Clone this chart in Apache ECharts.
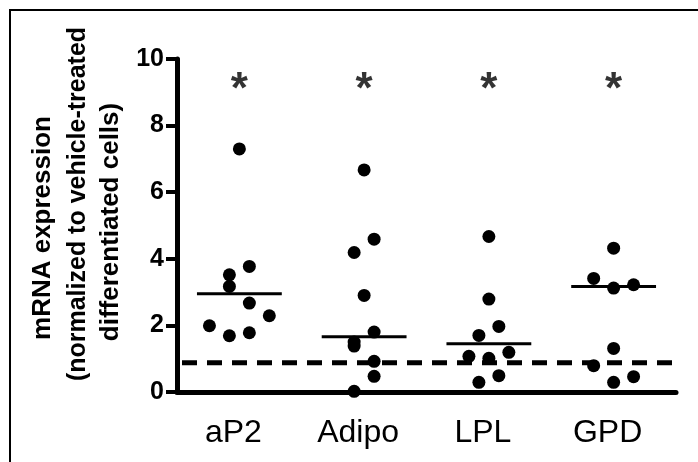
<!DOCTYPE html>
<html>
<head>
<meta charset="utf-8">
<script src="https://cdn.jsdelivr.net/npm/echarts@6/dist/echarts.min.js"></script>
<style>
  html, body { margin: 0; padding: 0; background: #fff; }
  #chart { width: 698px; height: 462px; }
</style>
</head>
<body>
<div id="chart"></div>
<script>
// Gene groups along the x axis
const categories = ['aP2', 'Adipo', 'LPL', 'GPD'];

// Individual measurements per gene (fold change)
const aP2Values   = [7.3, 3.77, 3.52, 3.17, 2.67, 2.29, 1.99, 1.69, 1.78];
const adipoValues = [6.67, 4.59, 4.19, 2.9, 1.8, 1.5, 1.38, 0.92, 0.47, 0.02];
const lplValues   = [4.67, 2.79, 1.97, 1.7, 1.19, 1.07, 1.01, 0.49, 0.29];
const gpdValues   = [4.32, 3.41, 3.12, 3.22, 1.31, 0.79, 0.46, 0.29];

// Horizontal spread slot of each point inside its column (dot-plot layout)
const aP2Slots   = [0, 1, -1, -1, 1, 3, -3, -1, 1];
const adipoSlots = [0, 1, -1, 0, 1, -1, -1, 1, 1, -1];
const lplSlots   = [0, 0, 1, -1, 2, -2, 0, 1, -1];
const gpdSlots   = [0, -2, 0, 2, 0, -2, 2, 0];

// Summary bar per group, reference level and significance marker level
const centerLines = [2.95, 1.66, 1.45, 3.17];
const referenceLevel = 0.88;
const markerLevel = 9.33;
const markers = ['*', '*', '*', '*'];

// Y tick labels
const yTicks = [0, 2, 4, 6, 8, 10];

const FONT = '"Liberation Sans", Arial, sans-serif';
const SLOT_STEP = 0.08;     // column fraction per spread slot
const HALF_BAR = 0.34;      // half width of the summary bar

const groups = [
  [aP2Values, aP2Slots],
  [adipoValues, adipoSlots],
  [lplValues, lplSlots],
  [gpdValues, gpdSlots]
];
const points = [];
groups.forEach(([vals, slots], ci) => {
  vals.forEach((v, k) => points.push([ci + slots[k] * SLOT_STEP, v]));
});

const chart = echarts.init(document.getElementById('chart'), null, { renderer: 'canvas' });

chart.setOption({
  animation: false,
  backgroundColor: '#fff',
  grid: { left: 177, right: 22, top: 59, bottom: 70, containLabel: false },
  xAxis: [
    {
      type: 'category',
      data: categories,
      boundaryGap: true,
      axisLine: { onZero: false, lineStyle: { color: '#000', width: 5 } },
      axisTick: { alignWithLabel: true, length: 11, lineStyle: { color: '#000', width: 4 } },
      axisLabel: {
        color: '#000', fontFamily: FONT, fontSize: 32, margin: 25,
        padding: [0, 12, 0, 0]
      },
      splitLine: { show: false }
    },
    {
      type: 'value',
      min: -0.5,
      max: 3.5,
      show: false,
      splitLine: { show: false }
    }
  ],
  yAxis: {
    type: 'value',
    min: yTicks[0],
    max: yTicks[yTicks.length - 1],
    interval: yTicks[1] - yTicks[0],
    axisLine: { show: true, onZero: false, lineStyle: { color: '#000', width: 5 } },
    axisTick: { show: true, length: 11, lineStyle: { color: '#000', width: 4 } },
    axisLabel: { color: '#000', fontFamily: FONT, fontSize: 25, fontWeight: 'bold', margin: 13 },
    splitLine: { show: false }
  },
  series: [
    {
      // dashed reference level across the plot
      type: 'line',
      xAxisIndex: 1,
      data: [[-0.5, referenceLevel], [3.5, referenceLevel]],
      symbol: 'none',
      lineStyle: { color: '#000', width: 5, type: [15, 10], dashOffset: 20 },
      z: 3
    },
    {
      // summary bar of each group
      type: 'custom',
      xAxisIndex: 1,
      data: centerLines.map((v, i) => [i, v]),
      renderItem: (params, api) => {
        const i = api.value(0), v = api.value(1);
        const p1 = api.coord([i - HALF_BAR, v]);
        const p2 = api.coord([i + HALF_BAR, v]);
        return {
          type: 'line',
          shape: { x1: p1[0], y1: p1[1], x2: p2[0], y2: p2[1] },
          style: { stroke: '#000', lineWidth: 3 }
        };
      },
      z: 4
    },
    {
      type: 'scatter',
      xAxisIndex: 1,
      data: points,
      symbol: 'circle',
      symbolSize: 13,
      itemStyle: { color: '#000', opacity: 1 },
      z: 5
    },
    {
      // significance markers
      type: 'scatter',
      xAxisIndex: 1,
      data: markers.map((m, i) => ({ value: [i, markerLevel], name: m })),
      symbolSize: 0,
      label: {
        show: true,
        position: 'inside',
        formatter: p => p.name,
        color: '#000',
        fontFamily: FONT,
        fontSize: 44,
        fontWeight: 'bold',
        offset: [0, 10]
      },
      z: 6
    }
  ],
  graphic: [
    {
      type: 'rect',
      shape: { x: 10, y: 10, width: 720, height: 480 },
      style: { fill: 'none', stroke: '#000', lineWidth: 2 },
      silent: true
    },
    {
      type: 'text',
      x: 43, y: 228, rotation: Math.PI / 2,
      style: { text: 'mRNA expression', font: 'bold 26px ' + FONT, fill: '#000', textAlign: 'center', textVerticalAlign: 'middle' }
    },
    {
      type: 'text',
      x: 78, y: 204, rotation: Math.PI / 2,
      style: { text: '(normalized to vehicle-treated', font: 'bold 25px ' + FONT, fill: '#000', textAlign: 'center', textVerticalAlign: 'middle' }
    },
    {
      type: 'text',
      x: 111, y: 222, rotation: Math.PI / 2,
      style: { text: 'differentiated cells)', font: 'bold 26px ' + FONT, fill: '#000', textAlign: 'center', textVerticalAlign: 'middle' }
    }
  ]
});
</script>
</body>
</html>
